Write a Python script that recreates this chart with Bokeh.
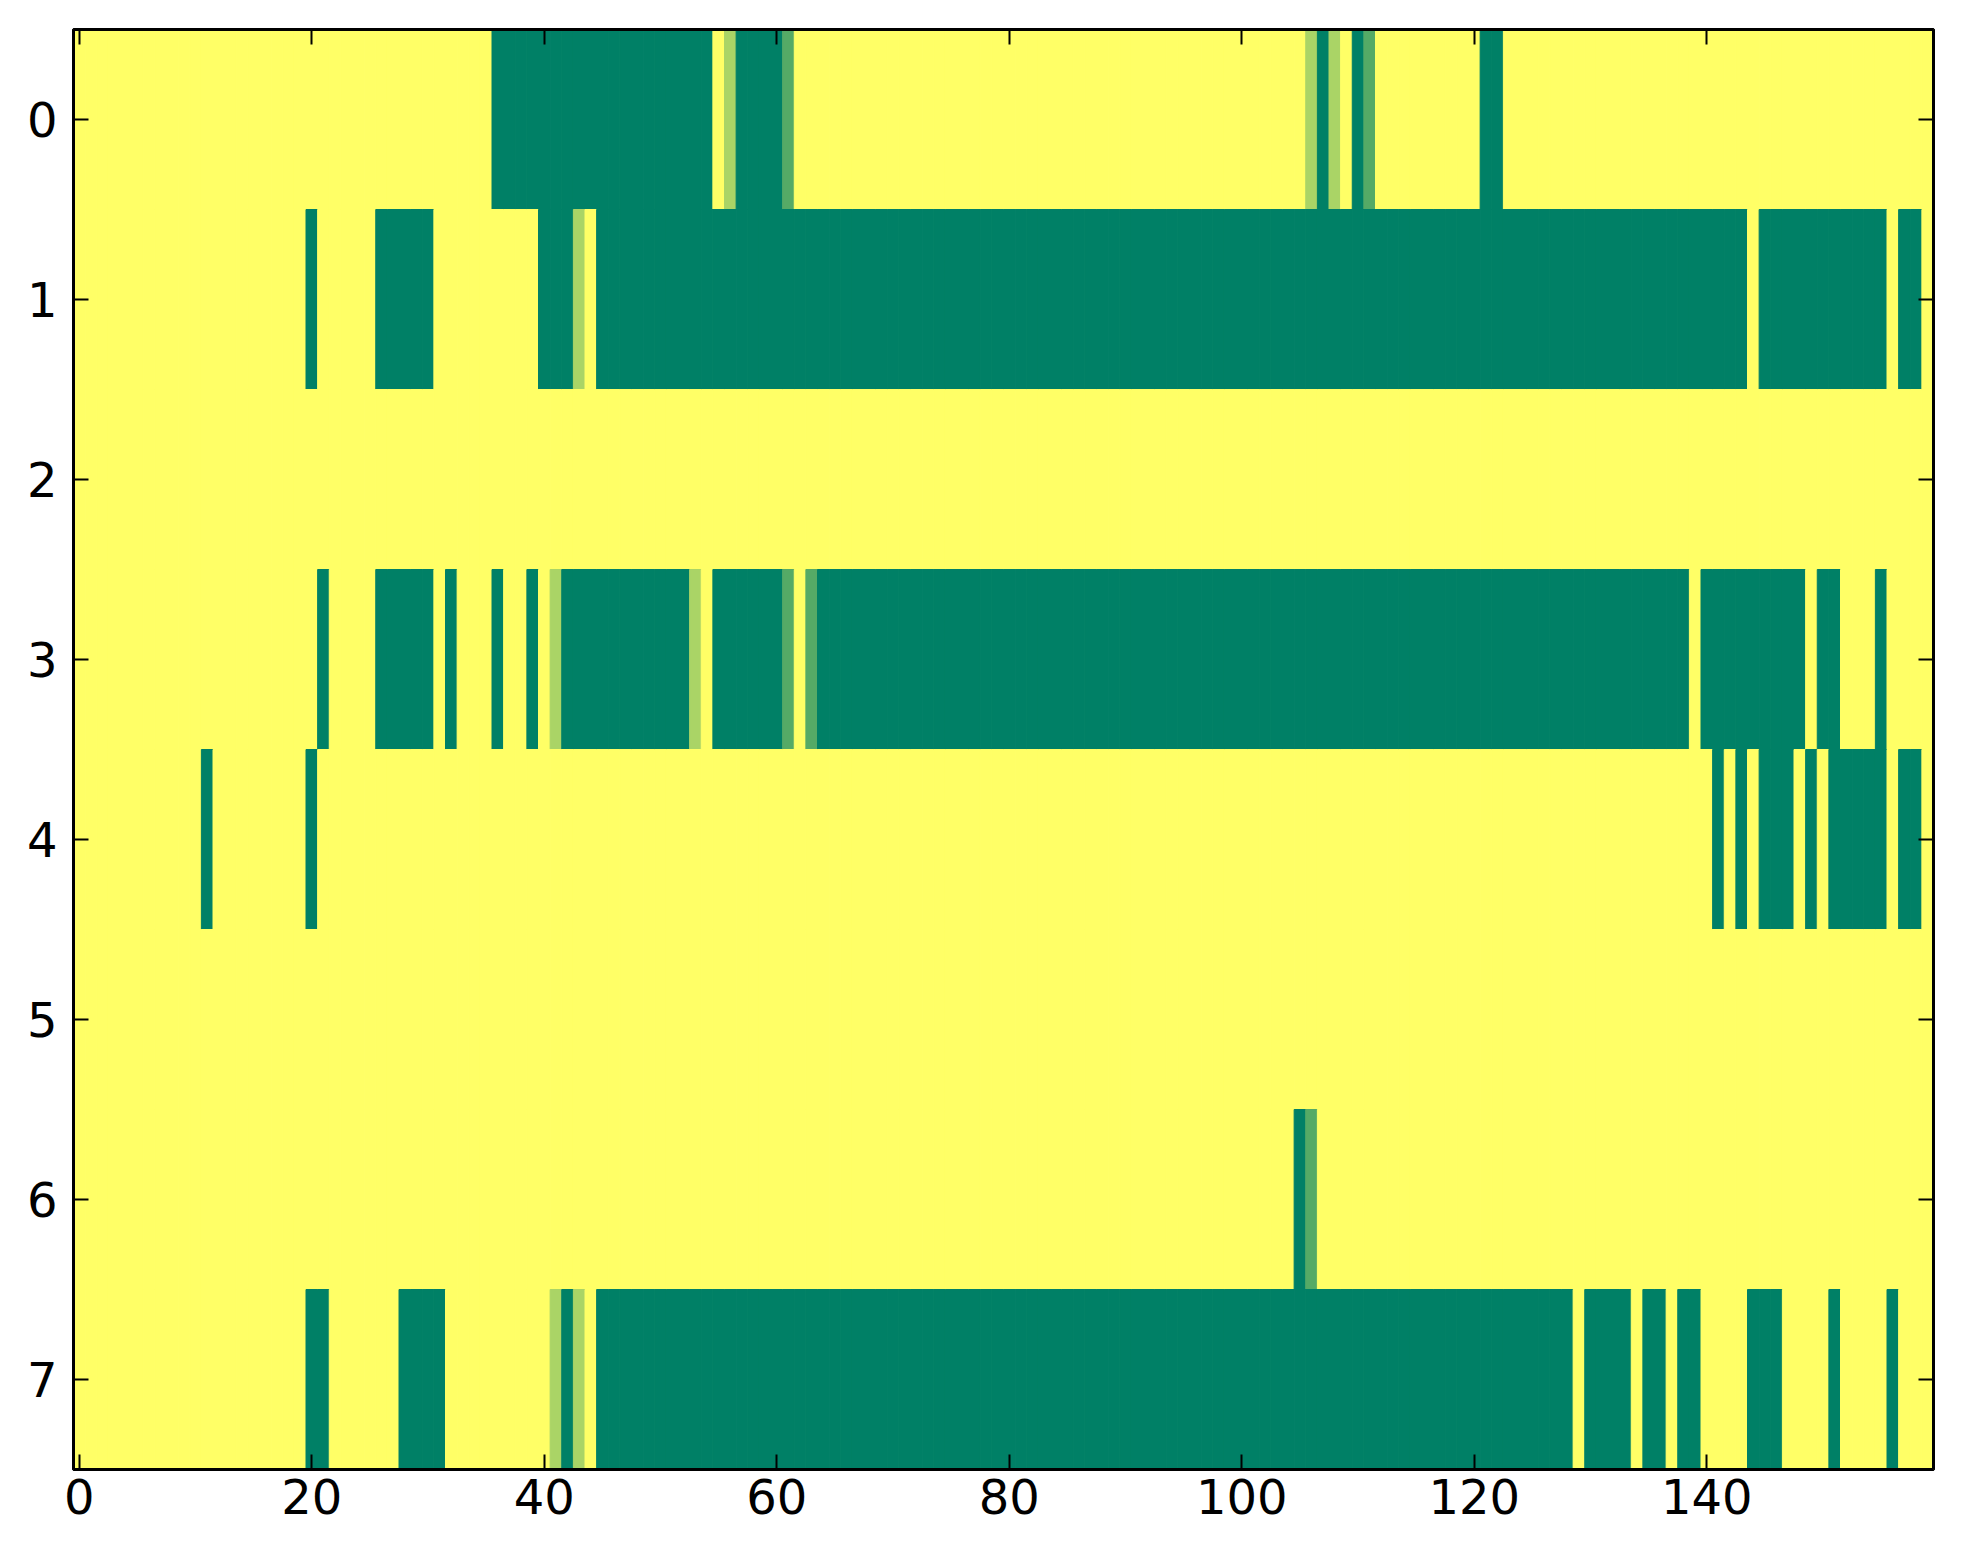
from bokeh.plotting import figure
from bokeh.models import Range1d, FixedTicker, LinearAxis, LinearColorMapper, ColumnDataSource
from bokeh.embed import file_html
from bokeh.resources import INLINE

n_cols = 160
y_ticks = [0, 1, 2, 3, 4, 5, 6, 7]
x_ticks = [0, 20, 40, 60, 80, 100, 120, 140]
palette = ["#ffff66", "#aad466", "#55aa66", "#008066"]

# run-length encoded cell values per row: (value, count)
row0_runs = [(0, 36), (3, 19), (0, 1), (1, 1), (3, 4), (2, 1), (0, 44), (1, 1), (3, 1), (1, 1),
             (0, 1), (3, 1), (2, 1), (0, 9), (3, 2), (0, 37)]
row1_runs = [(0, 20), (3, 1), (0, 5), (3, 5), (0, 9), (3, 3), (1, 1), (0, 1), (3, 99), (0, 1),
             (3, 11), (0, 1), (3, 2), (0, 1)]
row2_runs = [(0, 160)]
row3_runs = [(0, 21), (3, 1), (0, 4), (3, 5), (0, 1), (3, 1), (0, 3), (3, 1), (0, 2), (3, 1),
             (0, 1), (1, 1), (3, 11), (1, 1), (0, 1), (3, 6), (2, 1), (0, 1), (2, 1), (3, 75),
             (0, 1), (3, 9), (0, 1), (3, 2), (0, 3), (3, 1), (0, 4)]
row4_runs = [(0, 11), (3, 1), (0, 8), (3, 1), (0, 120), (3, 1), (0, 1), (3, 1), (0, 1), (3, 3),
             (0, 1), (3, 1), (0, 1), (3, 5), (0, 1), (3, 2), (0, 1)]
row5_runs = [(0, 160)]
row6_runs = [(0, 105), (3, 1), (2, 1), (0, 53)]
row7_runs = [(0, 20), (3, 2), (0, 6), (3, 4), (0, 9), (1, 1), (3, 1), (1, 1), (0, 1), (3, 84),
             (0, 1), (3, 4), (0, 1), (3, 2), (0, 1), (3, 2), (0, 4), (3, 3), (0, 4), (3, 1),
             (0, 4), (3, 1), (0, 3)]

rows = [row0_runs, row1_runs, row2_runs, row3_runs, row4_runs, row5_runs, row6_runs, row7_runs]

xs, ys, vs = [], [], []
for r, runs in enumerate(rows):
    c = 0
    for v, n in runs:
        for _ in range(n):
            xs.append(c)
            ys.append(r)
            vs.append(v)
            c += 1
    assert c == n_cols, (r, c)

src = ColumnDataSource(dict(x=xs, y=ys, v=vs))
mapper = LinearColorMapper(palette=palette, low=-0.5, high=3.5)

p = figure(width=1963, height=1564, output_backend="svg", toolbar_location=None,
           x_range=Range1d(-0.5, n_cols - 0.5), y_range=Range1d(7.5, -0.5),
           min_border_left=73, min_border_right=30, min_border_top=29, min_border_bottom=95)

p.rect(x="x", y="y", width=1, height=1, source=src,
       fill_color={"field": "v", "transform": mapper},
       line_color={"field": "v", "transform": mapper}, line_width=1)

p.grid.visible = False
p.background_fill_color = "white"
p.border_fill_color = "white"
p.outline_line_color = "black"
p.outline_line_width = 3


def style(ax, ticks, show_labels, standoff):
    ax.ticker = FixedTicker(ticks=ticks)
    ax.minor_tick_line_color = None
    ax.major_tick_in = 15
    ax.major_tick_out = 0
    ax.major_tick_line_width = 2
    ax.major_tick_line_color = "black"
    ax.axis_line_color = "black"
    ax.axis_line_width = 3
    ax.major_label_text_font = "DejaVu Sans"
    ax.major_label_text_font_size = "48px"
    ax.major_label_text_color = "black"
    ax.major_label_standoff = standoff
    if not show_labels:
        ax.major_label_overrides = {t: "" for t in ticks}
        ax.major_label_standoff = 0


style(p.xaxis[0], x_ticks, True, 9)
style(p.yaxis[0], y_ticks, True, 16)

top = LinearAxis()
style(top, x_ticks, False, 0)
p.add_layout(top, "above")
right = LinearAxis()
style(right, y_ticks, False, 0)
p.add_layout(right, "right")

open("out.html", "w").write(file_html(p, INLINE))
